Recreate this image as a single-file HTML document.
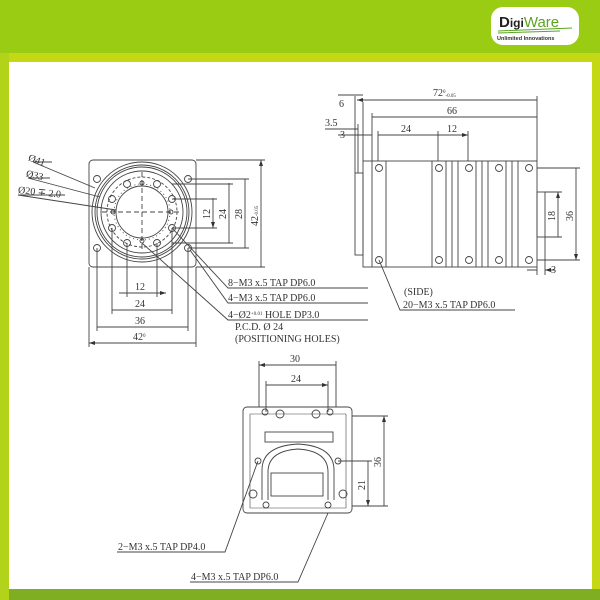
<!DOCTYPE html>
<html><head><meta charset="utf-8"><style>
html,body{margin:0;padding:0;width:600px;height:600px;overflow:hidden;background:#fff}
svg{display:block}
text{font-family:"Liberation Serif",serif;fill:#333}
</style></head><body>
<svg width="600" height="600" viewBox="0 0 600 600" xmlns="http://www.w3.org/2000/svg">
<defs>
<marker id="a" markerWidth="6" markerHeight="6" refX="6" refY="3" orient="auto-start-reverse" markerUnits="userSpaceOnUse"><path d="M0,1 L6,3 L0,5" fill="#333"/></marker>
</defs>
<rect x="0" y="0" width="600" height="600" fill="#c4d816"/>
<rect x="0" y="0" width="600" height="53" fill="#9bcc14"/>
<rect x="9" y="62" width="583" height="527" fill="#fff"/>
<rect x="0" y="589" width="600" height="11" fill="#7fae22"/>
<rect x="0" y="53" width="9" height="547" fill="#b3d31a"/>
<!-- logo -->
<rect x="491" y="7" width="88" height="38" rx="12" fill="#fff"/>
<text x="499" y="27" style="font-family:'Liberation Sans',sans-serif;font-weight:bold;font-size:15px;fill:#222">D<tspan style="font-size:12px">igi</tspan><tspan style="fill:#5aa520;font-weight:normal">Ware</tspan></text>
<path d="M498 31 L572 28 M498 33 L560 31" stroke="#5aa520" stroke-width="1"/>
<text x="497" y="40" style="font-family:'Liberation Sans',sans-serif;font-weight:bold;font-size:5.5px;fill:#333">Unlimited Innovations</text>

<g stroke="#444" stroke-width="0.9" fill="none">
<!-- FRONT VIEW -->
<rect x="89" y="160" width="107" height="107" rx="4"/>
<circle cx="142" cy="212" r="50"/><circle cx="142" cy="212" r="47"/><circle cx="142" cy="212" r="45"/><circle cx="142" cy="212" r="41"/>
<circle cx="142" cy="212" r="35" stroke-dasharray="3,2"/>
<circle cx="142" cy="212" r="26"/>
<circle cx="142" cy="212" r="28" stroke-dasharray="1,3"/>
<g>
<circle cx="127" cy="184" r="3.5"/><circle cx="157" cy="184" r="3.5"/>
<circle cx="112" cy="199" r="3.5"/><circle cx="172" cy="199" r="3.5"/>
<circle cx="112" cy="228" r="3.5"/><circle cx="172" cy="228" r="3.5"/>
<circle cx="127" cy="243" r="3.5"/><circle cx="157" cy="243" r="3.5"/>
<circle cx="142" cy="183" r="2"/><circle cx="142" cy="241" r="2"/><circle cx="113" cy="212" r="2"/><circle cx="171" cy="212" r="2"/>
<circle cx="97" cy="179" r="3.5"/><circle cx="188" cy="179" r="3.5"/><circle cx="97" cy="248" r="3.5"/><circle cx="188" cy="248" r="3.5"/>
</g>
<path d="M142 172 V252 M102 212 H182" stroke-dasharray="5,3"/>
<path d="M196 160 H265 M196 267 H265 M188 179 H249 M188 248 H249 M172 184 H233 M172 243 H233 M172 199 H217 M172 228 H217"/>
<path d="M261 160 V267 M245 179 V248 M229 183 V243 M213 198 V228" marker-start="url(#a)" marker-end="url(#a)"/>
<path d="M89 267 V347 M196 267 V347 M97 248 V331 M188 248 V331 M112 228 V314 M172 228 V314 M127 243 V297 M157 243 V297"/>
<path d="M89 343 H196 M97 327 H188 M112 310 H172 M119 293 H166" marker-start="url(#a)" marker-end="url(#a)"/>
<path d="M33 162 L95 188 M28 178 L100 197 M18 195 L116 210 M18 195 H65 M28 178 H50 M33 162 H52"/>
<path d="M172 228 L228 288 H368 M190 250 L228 303 H368 M142 243 L228 320 H368"/>
<!-- SIDE VIEW -->
<rect x="355" y="173" width="8" height="82"/>
<rect x="363" y="161" width="174" height="106"/>
<path d="M372 161 V267 M386 161 V267 M432 161 V267 M446 161 V267 M452 161 V267 M458 161 V267 M476 161 V267 M482 161 V267 M488 161 V267 M506 161 V267 M512 161 V267 M518 161 V267"/>
<rect x="537" y="192" width="8" height="45"/>
<g>
<circle cx="379" cy="168" r="3.5"/><circle cx="439" cy="168" r="3.5"/><circle cx="469" cy="168" r="3.5"/><circle cx="499" cy="168" r="3.5"/><circle cx="529" cy="168" r="3.5"/>
<circle cx="379" cy="260" r="3.5"/><circle cx="439" cy="260" r="3.5"/><circle cx="469" cy="260" r="3.5"/><circle cx="499" cy="260" r="3.5"/><circle cx="529" cy="260" r="3.5"/>
</g>
<path d="M355 173 V96 M537 161 V96 M372 161 V113 M363 161 V102 M358 173 V124 M378 161 V131 M438 161 V131 M468 161 V131"/>
<path d="M357 100 H537 M372 117 H537 M378 135 H438 M438 135 H468" marker-start="url(#a)" marker-end="url(#a)"/>
<path d="M338 95 H363 M325 129 H358 M338 135 H372"/>
<path d="M545 192 H562 M545 237 H562 M537 168 H580 M537 260 H580 M537 267 V275 M545 237 V275"/>
<path d="M558 192 V237 M576 168 V260" marker-start="url(#a)" marker-end="url(#a)"/>
<path d="M527 270 H537 M555 270 H545" marker-end="url(#a)"/>
<path d="M379 260 L400 310 H515"/>
<!-- BACK VIEW -->
<rect x="243" y="407" width="109" height="106" rx="4"/>
<path d="M250 414 H346 V508 H250 Z" stroke-width="0.6"/>
<rect x="265" y="432" width="68" height="10"/>
<path d="M262 500 V470 Q262 446 298 444 Q334 446 334 470 V500"/>
<path d="M268 500 V472 Q268 451 298 449 Q328 451 328 472 V500"/>
<rect x="271" y="473" width="52" height="23"/>
<g>
<circle cx="265" cy="412" r="3"/><circle cx="280" cy="414" r="4"/><circle cx="316" cy="414" r="4"/><circle cx="330" cy="412" r="3"/>
<circle cx="258" cy="461" r="3"/><circle cx="338" cy="461" r="3"/>
<circle cx="253" cy="494" r="4"/><circle cx="343" cy="494" r="4"/>
<circle cx="266" cy="505" r="3"/><circle cx="328" cy="505" r="3"/>
</g>
<path d="M259 407 V361 M336 407 V361 M266 412 V381 M328 412 V381"/>
<path d="M259 365 H336 M266 385 H328" marker-start="url(#a)" marker-end="url(#a)"/>
<path d="M352 416 H388 M352 506 H388 M338 461 H372"/>
<path d="M384 416 V506 M368 461 V506" marker-start="url(#a)" marker-end="url(#a)"/>
<path d="M258 461 L225 552 H117 M328 513 L298 582 H190"/>
</g>
<g style="font-size:10px">
<text x="28" y="162" transform="rotate(20 33 160)">Ø41</text>
<text x="26" y="177" transform="rotate(12 28 175)">Ø33</text>
<text x="18" y="193" transform="rotate(6 18 191)">Ø20 ∓ 2.0</text>
<text x="228" y="286">8−M3 x.5 TAP DP6.0</text>
<text x="228" y="301">4−M3 x.5 TAP DP6.0</text>
<text x="228" y="318">4−Ø2<tspan style="font-size:5px" dy="-3">+0.01</tspan><tspan dy="3"> HOLE DP3.0</tspan></text>
<text x="235" y="330">P.C.D. Ø 24</text>
<text x="235" y="342">(POSITIONING HOLES)</text>
<text x="135" y="290">12</text><text x="135" y="307">24</text><text x="135" y="324">36</text><text x="133" y="340">42<tspan style="font-size:5px" dy="-3">0</tspan></text>
<text transform="translate(210 219) rotate(-90)">12</text>
<text transform="translate(226 219) rotate(-90)">24</text>
<text transform="translate(242 219) rotate(-90)">28</text>
<text transform="translate(258 226) rotate(-90)">42<tspan style="font-size:5px">-0.05</tspan></text>
<text x="433" y="96">72<tspan style="font-size:5px" dy="-3">0</tspan><tspan style="font-size:5px" dy="4">-0.05</tspan></text>
<text x="447" y="114">66</text>
<text x="401" y="132">24</text>
<text x="447" y="132">12</text>
<text x="339" y="107">6</text>
<text x="325" y="126">3.5</text>
<text x="340" y="138">3</text>
<text transform="translate(555 221) rotate(-90)">18</text>
<text transform="translate(573 221) rotate(-90)">36</text>
<text x="551" y="273">3</text>
<text x="404" y="295">(SIDE)</text>
<text x="403" y="308">20−M3 x.5 TAP DP6.0</text>
<text x="290" y="362">30</text>
<text x="291" y="382">24</text>
<text transform="translate(381 467) rotate(-90)">36</text>
<text transform="translate(365 490) rotate(-90)">21</text>
<text x="118" y="550">2−M3 x.5 TAP DP4.0</text>
<text x="191" y="580">4−M3 x.5 TAP DP6.0</text>
</g>
</svg>
</body></html>
